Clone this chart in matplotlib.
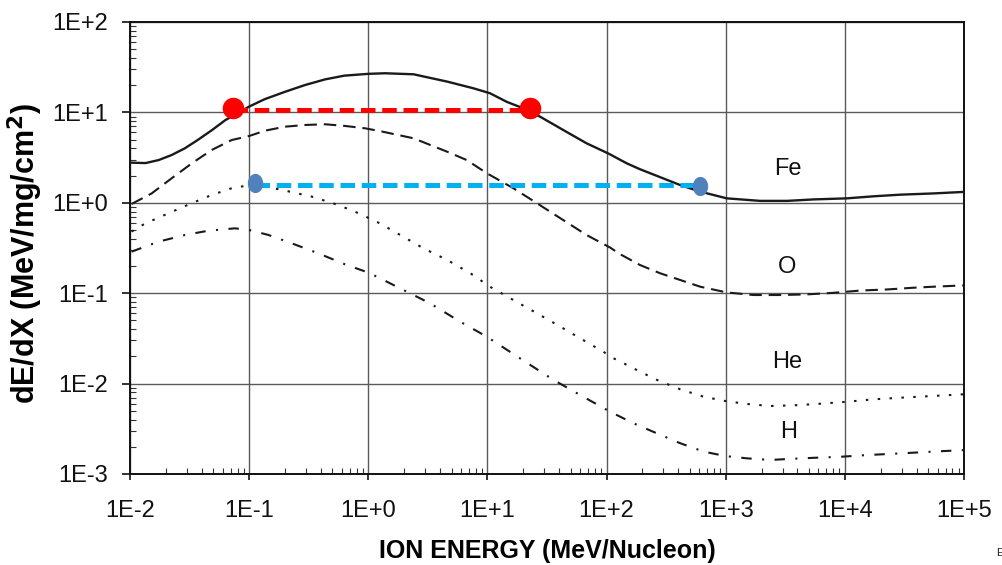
import matplotlib
matplotlib.use("Agg")
import matplotlib.pyplot as plt
from matplotlib.path import Path
from matplotlib.ticker import LogLocator, NullFormatter, FixedLocator, FixedFormatter
import numpy as np

plt.rcParams['font.family'] = ['Liberation Sans', 'DejaVu Sans']

# Stopping power curves, dE/dX (MeV/mg/cm^2) versus ion energy (MeV/nucleon)
fe_energy = [0.0103, 0.0135, 0.0174, 0.0224, 0.0288, 0.037, 0.049, 0.063, 0.10, 0.135,
             0.20, 0.295, 0.435, 0.63, 1.0, 1.38, 2.4, 4.6, 7.6, 10.5, 14.5, 20, 27.7,
             46, 68, 104, 148, 191, 282, 415, 611, 1020, 1950, 3270, 5460, 10400,
             17400, 29200, 55600, 100000]
fe_dedx = [2.78, 2.75, 2.97, 3.38, 4.0, 4.95, 6.4, 8.2, 11.6, 14.0,
           16.9, 20.1, 23.2, 25.5, 26.7, 27.1, 26.4, 21.9, 18.5, 16.3, 13.1, 11.1, 8.96,
           6.1, 4.55, 3.5, 2.73, 2.35, 1.92, 1.57, 1.33, 1.12, 1.05, 1.05, 1.09, 1.12,
           1.18, 1.23, 1.27, 1.32]

o_energy = [0.0103, 0.0152, 0.0224, 0.033, 0.0485, 0.0715, 0.10, 0.136, 0.20, 0.295,
            0.435, 0.64, 0.94, 1.26, 2.4, 4.6, 6.7, 9.9, 16.5, 26, 41, 68, 107, 130,
            191, 282, 415, 611, 1020, 1710, 2870, 4810, 8050, 13500, 22600, 37800,
            55600, 100000]
o_dedx = [0.97, 1.27, 1.87, 2.73, 3.84, 4.95, 5.48, 6.28, 6.95, 7.26,
          7.39, 7.08, 6.67, 6.2, 5.17, 3.67, 2.97, 2.12, 1.45, 0.99, 0.674, 0.44, 0.32, 0.27,
          0.205, 0.166, 0.140, 0.118, 0.102, 0.0955, 0.0955, 0.097, 0.101, 0.107, 0.110, 0.115,
          0.118, 0.122]

he_energy = [0.0103, 0.0134, 0.021, 0.033, 0.0485, 0.0715, 0.11, 0.188, 0.336, 0.56,
             0.83, 1.25, 2.9, 4.6, 7.2, 10.5, 16.5, 26, 41, 60, 94, 114, 148, 180, 264,
             415, 652, 990, 1510, 2370, 3710, 5830, 10400, 17400, 29200, 48900, 100000]
he_dedx = [0.48, 0.59, 0.765, 0.99, 1.22, 1.45, 1.6, 1.39, 1.17, 0.946,
           0.766, 0.593, 0.314, 0.233, 0.166, 0.118, 0.084, 0.060, 0.0426, 0.0317, 0.0225,
           0.0191, 0.0161, 0.0141, 0.011, 0.00865, 0.00716, 0.00642, 0.00595, 0.00565,
           0.00575, 0.00595, 0.0063, 0.0067, 0.00698, 0.00724, 0.00762]

h_energy = [0.0103, 0.0173, 0.029, 0.0454, 0.076, 0.10, 0.145, 0.228, 0.381, 0.63,
            1.0, 1.26, 1.63, 3.3, 5.9, 9.9, 18.8, 35.8, 60, 107, 168, 264, 415, 652,
            990, 1510, 2370, 3480, 5460, 9160, 15300, 29200, 55600, 100000]
h_dedx = [0.288, 0.371, 0.441, 0.491, 0.522, 0.50, 0.441, 0.356, 0.276, 0.21,
          0.169, 0.146, 0.123, 0.0773, 0.0484, 0.033, 0.019, 0.011, 0.00748, 0.00489,
          0.00364, 0.00282, 0.00219, 0.00177, 0.00158, 0.00149, 0.00143, 0.00147,
          0.00151, 0.00155, 0.00162, 0.00169, 0.00177, 0.00184]

# Highlighted energy ranges at constant stopping power
red_energy = [0.0733, 22.8]
red_line_level = 10.6
red_dot_level = 11.1
blue_energy = [0.111, 611]
blue_line_level = 1.57
blue_dot_levels = [1.67, 1.53]

ion_names = ["Fe", "O", "He", "H"]
ion_label_energy = [3300, 3300, 3300, 3400]
ion_label_dedx = [2.34, 0.195, 0.0173, 0.00292]

x_ticks = [1e-2, 1e-1, 1e0, 1e1, 1e2, 1e3, 1e4, 1e5]
x_tick_labels = ["1E-2", "1E-1", "1E+0", "1E+1", "1E+2", "1E+3", "1E+4", "1E+5"]
y_ticks = [1e-3, 1e-2, 1e-1, 1e0, 1e1, 1e2]
y_tick_labels = ["1E-3", "1E-2", "1E-1", "1E+0", "1E+1", "1E+2"]

fig = plt.figure(figsize=(10.03, 5.65), dpi=100)
ax = fig.add_axes([130 / 1003, 1 - 474 / 565, 834 / 1003, 452 / 565])
ax.set_xscale('log')
ax.set_yscale('log')
ax.set_xlim(1e-2, 1e5)
ax.set_ylim(1e-3, 1e2)

ink = '#1a1a1a'
ax.plot(fe_energy, fe_dedx, color=ink, lw=1.7, ls='-', zorder=3)
ax.plot(o_energy, o_dedx, color=ink, lw=1.5, dashes=(6, 3.3), zorder=3)
ax.plot(he_energy, he_dedx, color=ink, lw=1.5, dashes=(1.2, 4.5), zorder=3)
ax.plot(h_energy, h_dedx, color=ink, lw=1.5, dashes=(5, 5, 1, 5), zorder=3)

# Red range bar with circular end markers
ax.plot(red_energy, [red_line_level, red_line_level], color='#ff0000', lw=3.6,
        dashes=(2.9, 1.35), solid_capstyle='butt', zorder=4)
ax.plot(red_energy, [red_dot_level, red_dot_level], ls='none', marker='o',
        markersize=15.5, color='#ff0000', markeredgewidth=0, zorder=5)

# Blue range bar with oval end markers
theta = np.linspace(0, 2 * np.pi, 60)
oval = Path(np.column_stack([0.8 * np.cos(theta), np.sin(theta)]), closed=True)
ax.plot(blue_energy, [blue_line_level, blue_line_level], color='#00b0f0', lw=3.6,
        dashes=(2.9, 1.35), solid_capstyle='butt', zorder=4)
ax.plot(blue_energy, blue_dot_levels, ls='none', marker=oval,
        markersize=13.8, color='#4f81bd', markeredgewidth=0, zorder=5)

for name, ex, ey in zip(ion_names, ion_label_energy, ion_label_dedx):
    ax.text(ex, ey, name, fontsize=17, ha='center', va='center', color='#111111')

# Axes styling
ax.xaxis.set_major_locator(FixedLocator(x_ticks))
ax.xaxis.set_major_formatter(FixedFormatter(x_tick_labels))
ax.yaxis.set_major_locator(FixedLocator(y_ticks))
ax.yaxis.set_major_formatter(FixedFormatter(y_tick_labels))
ax.xaxis.set_minor_locator(LogLocator(base=10, subs=np.arange(2, 10), numticks=20))
ax.yaxis.set_minor_locator(LogLocator(base=10, subs=np.arange(2, 10), numticks=20))
ax.xaxis.set_minor_formatter(NullFormatter())
ax.yaxis.set_minor_formatter(NullFormatter())

ax.grid(True, which='major', color='#5a5a5a', lw=1.0)
ax.tick_params(axis='both', which='major', direction='out', length=6, width=1.2,
               labelsize=17, colors='#111111')
ax.tick_params(axis='y', which='major', pad=10)
ax.tick_params(axis='x', which='major', length=4, pad=15)
ax.tick_params(axis='both', which='minor', direction='in', length=4, width=0.8,
               colors='#333333')
for side in ['left', 'bottom', 'top', 'right']:
    ax.spines[side].set_color('#111111')
    ax.spines[side].set_linewidth(1.4)

ax.set_xlabel('ION ENERGY (MeV/Nucleon)', fontsize=18, fontweight='bold')
ax.set_ylabel('dE/dX (MeV/mg/cm$^\\mathbf{2}$)', fontsize=22, fontweight='bold')
ax.xaxis.set_label_coords(0.5, -0.143)
ax.yaxis.set_label_coords(-0.102, 0.487)

fig.text(0.993, 0.012, 'E', fontsize=8, ha='left', va='bottom', color='#222222')

fig.savefig('out.png', dpi=100)
